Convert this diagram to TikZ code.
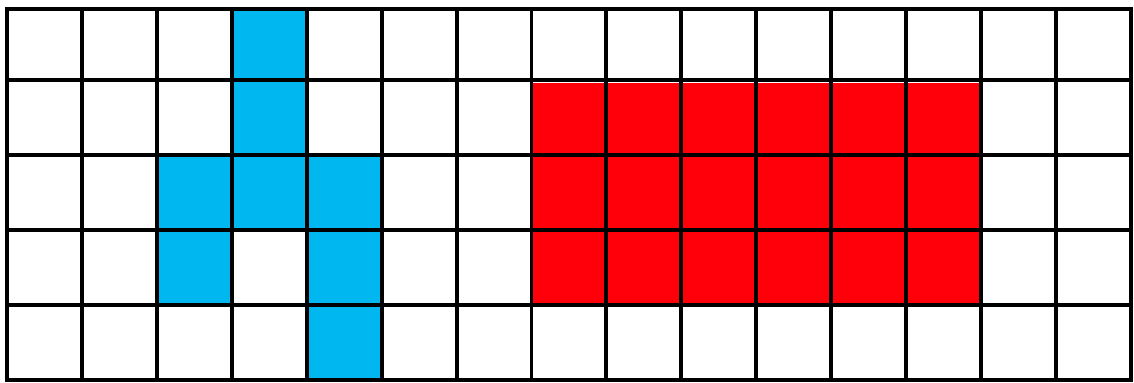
\documentclass[tikz,border=0pt]{standalone}
\usepackage{tikz}
\definecolor{cellblue}{RGB}{0,183,240}
\definecolor{cellred}{RGB}{255,0,10}
\begin{document}
\begin{tikzpicture}[x=1cm,y=0.99cm]
\useasboundingbox (-0.093,-0.04) rectangle (15.04,5.12);
% blue figure
\foreach \x/\y in {3/4,3/3,2/2,3/2,4/2,2/1,4/1,4/0}{
  \fill[cellblue] (\x,\y) rectangle ++(1,1);
}
% red block
\fill[cellred] (7,1) rectangle (13,4);
% grid
\draw[line width=1.5pt] (0,0) grid (15.01,5.01);
\draw[line width=1.5pt] (0,0) rectangle (15,5);
\end{tikzpicture}
\end{document}
